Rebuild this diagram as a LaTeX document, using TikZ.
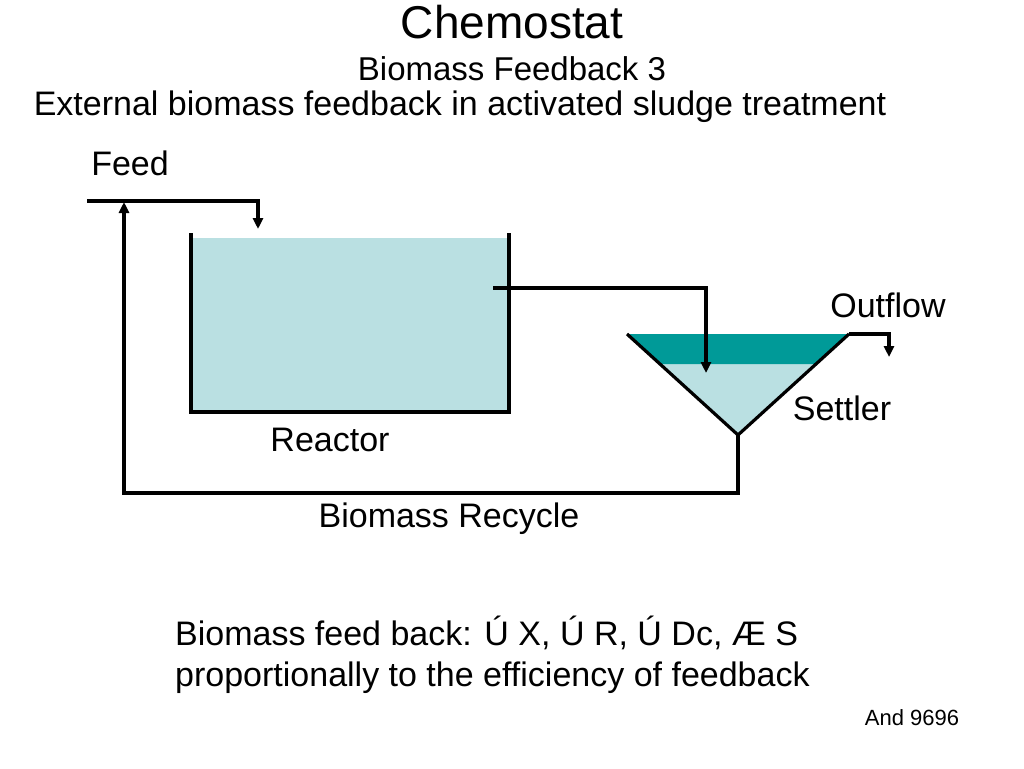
\documentclass[tikz,border=0pt]{standalone}
\usepackage{fontspec}
\setmainfont{Liberation Sans}
\usetikzlibrary{arrows.meta}
\definecolor{liquid}{HTML}{BAE0E2}
\definecolor{sludge}{HTML}{009A98}

\begin{document}
\begin{tikzpicture}
[every node/.style={inner sep=0pt}, pipe/.style={line width=3.2pt, color=black}, tip/.style={-{Triangle[length=11pt,width=10pt]}}, label/.style={font=\fontsize{34}{41}\selectfont}]
\useasboundingbox (0pt,0pt) rectangle (1024pt,-768pt);
% titles
\node (title) [anchor=base] at (512pt, -39pt) {\fontsize{46}{52}\selectfont Chemostat};
\node (sub) [anchor=base] at (512pt, -81pt) {\fontsize{33}{38}\selectfont Biomass Feedback 3};
\node (ext) [anchor=base] at (460pt, -115pt) {\fontsize{34}{40}\selectfont External biomass feedback in activated sludge treatment};
% reactor
\fill [liquid] (191pt, -238pt) rectangle (509pt, -412pt);
\draw [pipe] (191pt, -233pt) -- (191pt, -412pt) -- (509pt, -412pt) -- (509pt, -233pt);
% settler
\fill [liquid] (660pt, -364pt) -- (816pt, -364pt) -- (738pt, -435pt) -- cycle;
\fill [sludge] (627pt, -334pt) -- (849pt, -334pt) -- (816pt, -364pt) -- (660pt, -364pt) -- cycle;
\draw [pipe] (627pt, -334pt) -- (738pt, -435pt) -- (849pt, -334pt);
% pipe points
\coordinate (feedin) at (87pt, -201pt);
\coordinate (feedc) at (258pt, -201pt);
\coordinate (feedend) at (258pt, -229pt);
\coordinate (recyc) at (124pt, -493pt);
\coordinate (recyup) at (124pt, -202pt);
\coordinate (reacout) at (493pt, -288pt);
\coordinate (outc) at (706pt, -288pt);
\coordinate (setin) at (706pt, -373pt);
\coordinate (apex) at (738pt, -435pt);
\coordinate (apexb) at (738pt, -493pt);
\coordinate (setout) at (849pt, -334pt);
\coordinate (outflc) at (889pt, -334pt);
\coordinate (outend) at (889pt, -357pt);
\draw [pipe, tip] (feedin) -- (feedc) -- (feedend);
\draw [pipe, tip] (apex) -- (apexb) -- (recyc) -- (recyup);
\draw [pipe, tip] (reacout) -- (outc) -- (setin);
\draw [pipe, tip] (setout) -- (outflc) -- (outend);
% labels
\node (feed) [label] at (130pt, -163pt) {Feed};
\node (outflow) [label] at (888pt, -305pt) {Outflow};
\node (settler) [label] at (842pt, -408pt) {Settler};
\node (reactor) [label] at (330pt, -440pt) {Reactor};
\node (recycle) [label] at (449pt, -519pt) {Biomass Recycle};
\node (effect) [label, anchor=west, align=left] at (175pt, -655pt) {Biomass feed back: Ú X, Ú R, Ú Dc, Æ S\\proportionally to the efficiency of feedback};
\node (src) at (912pt, -718pt) {\fontsize{22}{26}\selectfont And 9696};
\end{tikzpicture}
\end{document}
